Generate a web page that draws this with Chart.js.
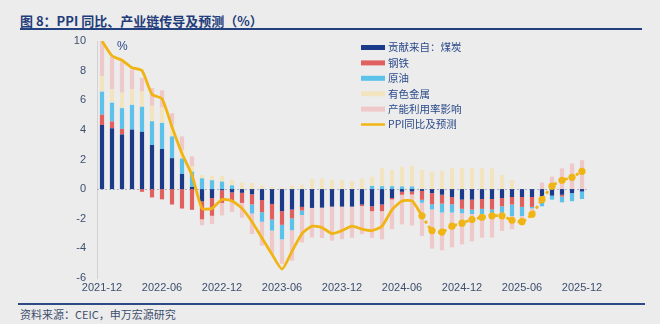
<!DOCTYPE html>
<html>
<head>
<meta charset="utf-8">
<script src="https://cdn.jsdelivr.net/npm/chart.js@4"></script>
<style>
  body { margin: 0; width: 660px; height: 324px; overflow: hidden; position: relative; background: #ECECEC; font-family: "Noto Sans CJK SC", sans-serif; }
  #title { position: absolute; left: 20px; top: 11px; font-size: 13px; font-weight: bold; color: #1F3C7A; white-space: nowrap; }
  #titleRule { position: absolute; left: 20px; top: 28px; width: 622px; height: 2px; background: #24417F; }
  #footRule { position: absolute; left: 18px; top: 303px; width: 627px; height: 2px; background: #2E4A86; }
  #source { position: absolute; left: 20px; top: 306px; font-size: 11px; color: #3E4E6E; white-space: nowrap; }
  #box { position: absolute; left: 0; top: 30px; width: 660px; height: 270px; }
  #box canvas { display: block; }
</style>
</head>
<body>
<div id="title">图 8：PPI 同比、产业链传导及预测（%）</div>
<div id="titleRule"></div>
<div id="box"><canvas id="chart"></canvas></div>
<div id="footRule"></div>
<div id="source">资料来源：CEIC，申万宏源研究</div>
<script>
// months 2021-12 .. 2025-12
const months = [
  '2021-12','2022-01','2022-02','2022-03','2022-04','2022-05','2022-06','2022-07','2022-08','2022-09','2022-10','2022-11',
  '2022-12','2023-01','2023-02','2023-03','2023-04','2023-05','2023-06','2023-07','2023-08','2023-09','2023-10','2023-11',
  '2023-12','2024-01','2024-02','2024-03','2024-04','2024-05','2024-06','2024-07','2024-08','2024-09','2024-10','2024-11',
  '2024-12','2025-01','2025-02','2025-03','2025-04','2025-05','2025-06','2025-07','2025-08','2025-09','2025-10','2025-11',
  '2025-12'
];

// contributions, percentage points
const coal = [
  4.33, 4.11, 3.69, 4.02, 3.87, 2.98, 2.71, 2.09, 1.02, 0.15, -0.82, -0.60,
  -0.08, -0.22, -0.25, -0.35, -0.74, -1.00, -1.49, -1.38, -1.20, -1.27, -1.25, -1.18,
  -1.18, -1.18, -1.04, -1.16, -1.04, -0.60, -0.18, -0.16, -0.12, -0.27, -0.38, -0.53,
  -0.71, -0.71, -0.67, -0.67, -0.60, -0.53, -0.53, -0.53, -0.49, -0.44, -0.38, -0.27,
  -0.16
];
const steel = [
  0.70, 0.46, 0.38, 0, -0.18, -0.56, -0.69, -1.04, -1.31, -1.40, -1.22, -1.20,
  -0.85, -0.62, -0.68, -0.68, -0.82, -1.05, -0.92, -0.60, -0.25, 0, 0, 0,
  0, 0, -0.10, -0.33, -0.45, -0.10, -0.20, -0.20, -0.60, -0.75, -0.60, -0.50,
  -0.62, -0.67, -0.66, -0.70, -0.56, -0.51, -0.67, -0.67, 0, 0, -0.12, 0,
  0
];
const oil = [
  1.55, 1.27, 1.40, 1.67, 1.69, 1.60, 1.76, 1.47, 1.05, 1.03, 0.73, 0.60,
  0.51, 0.25, 0, -0.62, -0.64, -0.75, -0.98, -0.80, -0.30, 0, 0, 0,
  0, 0, 0, 0.22, 0.20, 0.20, 0.18, 0.18, -0.20, -0.35, -0.60, -0.55,
  -0.30, -0.30, -0.35, -0.30, -0.44, -0.78, -0.62, -0.10, -0.67, -0.27, -0.39, -0.55,
  -0.51
];
const metals = [
  1.05, 0.89, 1.04, 1.04, 1.06, 1.04, 1.04, 0.73, 0.55, 0.35, 0.22, 0.30,
  0.38, 0.38, 0.45, 0.42, 0.25, 0.15, 0.10, 0.25, 0.30, 0.67, 0.73, 0.62,
  0.62, 0.55, 0.72, 0.62, 1.20, 1.10, 1.33, 1.40, 1.29, 1.18, 1.24, 1.40,
  1.45, 1.40, 1.40, 1.40, 0.96, 0.62, 0, 0, 0, 0, 0, 0,
  0
];
const capacity = [
  2.35, 2.22, 2.11, 1.34, 0.89, 1.22, 1.16, 0.84, 0.94, 0.69, -0.40, -0.55,
  -0.85, -0.70, -1.00, -1.38, -1.62, -1.55, -1.65, -2.05, -1.85, -2.00, -2.05, -2.30,
  -2.20, -2.10, -1.90, -1.80, -1.90, -2.00, -2.00, -2.10, -2.25, -2.65, -2.55, -2.35,
  -2.10, -1.85, -1.60, -1.60, -1.22, -0.89, -0.45, -0.52, 0.44, 0.84, 1.40, 1.73,
  1.96
];
// PPI yoy, %, forecast from 2024-08
const ppi = [
  10.0, 9.0, 8.7, 8.2, 8.0, 6.4, 6.1, 4.2, 2.4, 0.95, -1.3, -1.3,
  -0.7, -0.8, -1.3, -2.2, -3.3, -4.4, -5.4, -4.2, -3.0, -2.5, -2.6, -3.0,
  -2.8, -2.5, -2.7, -2.8, -2.5, -1.4, -0.8, -0.8, -1.8, -2.8, -2.9, -2.5,
  -2.3, -2.05, -1.9, -1.8, -1.8, -2.1, -2.2, -1.7, -0.7, 0.2, 0.6, 0.8,
  1.2
];
const forecastFrom = 32;

const tickFont = { family: '"Liberation Sans", Arial, sans-serif', size: 11 };

function bar(label, data, color) {
  return {
    type: 'bar', label, data,
    backgroundColor: color,
    stack: 'parts',
    barPercentage: 0.42,
    categoryPercentage: 1.0
  };
}

// dotted zero line, legend block and the % unit
const overlay = {
  id: 'overlay',
  beforeDatasetsDraw(chart) {
    const { ctx, chartArea } = chart;
    const y = Math.round(chart.scales.y.getPixelForValue(0)) + 0.5;
    ctx.save();
    ctx.strokeStyle = '#AEB6C2';
    ctx.lineWidth = 1;
    ctx.setLineDash([2, 2]);
    ctx.beginPath();
    ctx.moveTo(chartArea.left, y);
    ctx.lineTo(chartArea.right, y);
    ctx.stroke();
    ctx.restore();
  },
  afterDraw(chart) {
    const ctx = chart.ctx;
    ctx.save();
    ctx.font = '10.5px "Noto Sans CJK SC", sans-serif';
    ctx.textBaseline = 'middle';
    chart.data.datasets.forEach((ds, i) => {
      const y = 17.5 + i * 15.4;
      if (ds.type === 'line') {
        ctx.strokeStyle = ds.borderColor;
        ctx.lineWidth = 2.5;
        ctx.beginPath();
        ctx.moveTo(361, y);
        ctx.lineTo(385, y);
        ctx.stroke();
      } else {
        ctx.fillStyle = ds.backgroundColor;
        ctx.fillRect(361, y - 2.5, 24, 5);
      }
      ctx.fillStyle = '#2B4A8A';
      ctx.fillText(ds.label, 388, y);
    });
    ctx.font = '12px "Liberation Sans", Arial, sans-serif';
    ctx.fillStyle = '#2B4A8A';
    ctx.fillText('%', 117, 17);
    ctx.restore();
  }
};

const isForecast = ctx => ctx.dataIndex >= forecastFrom;

new Chart(document.getElementById('chart'), {
  data: {
    labels: months,
    datasets: [
      bar('贡献来自：煤炭', coal, '#1C3A8A'),
      bar('钢铁', steel, '#E0605F'),
      bar('原油', oil, '#5CC2EA'),
      bar('有色金属', metals, '#F2E4BF'),
      bar('产能利用率影响', capacity, '#EFC9CA'),
      {
        type: 'line', label: 'PPI同比及预测', data: ppi,
        stack: 'ppi', order: -1,
        borderColor: '#F0B414', backgroundColor: '#F0B414',
        borderWidth: 2.8, tension: 0.2,
        pointRadius: ctx => isForecast(ctx) ? 3.6 : 0,
        pointHoverRadius: 0,
        pointBorderWidth: 0,
        segment: {
          borderDash: ctx => ctx.p0DataIndex >= forecastFrom ? [3, 3] : undefined
        }
      }
    ]
  },
  options: {
    responsive: true,
    maintainAspectRatio: false,
    animation: false,
    layout: { padding: { left: 0, right: 73, top: 11, bottom: 0 } },
    plugins: { legend: { display: false }, tooltip: { enabled: false } },
    scales: {
      x: {
        stacked: true,
        grid: { display: false, drawTicks: false },
        border: { display: false },
        ticks: {
          autoSkip: false, maxRotation: 0, padding: 3,
          color: '#3E4E6E', font: tickFont,
          callback: (v, i) => i % 6 === 0 ? months[i] : ''
        },
        afterFit: s => { s.height = 22; }
      },
      y: {
        stacked: true,
        min: -6, max: 10,
        grid: { display: false, drawTicks: false },
        border: { display: true, color: '#D2D2D2' },
        ticks: { stepSize: 2, padding: 11, color: '#3E4E6E', font: tickFont },
        afterFit: s => { s.width = 97; s.paddingTop = 0; s.paddingBottom = 0; }
      }
    }
  },
  plugins: [overlay]
});
</script>
</body>
</html>
